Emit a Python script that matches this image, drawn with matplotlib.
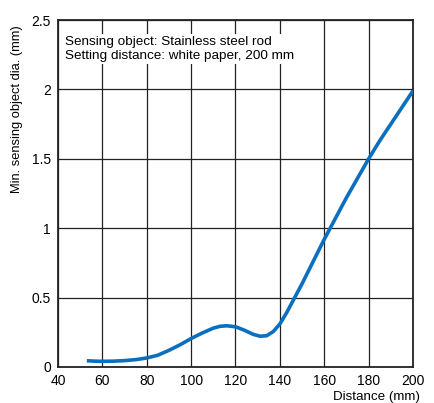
import matplotlib
matplotlib.use("Agg")
import matplotlib.pyplot as plt

plt.rcParams['font.family'] = ['Liberation Sans', 'DejaVu Sans']

# distance (mm) vs min. sensing object dia. (mm)
distance = [53, 57, 60, 65, 70, 75, 80, 85, 90, 95, 100, 105, 110, 113, 116, 120,
            124, 128, 131, 134, 137, 140, 143, 146, 150, 155, 160, 165, 170,
            175, 180, 185, 190, 195, 200]
min_dia = [0.045, 0.042, 0.041, 0.042, 0.046, 0.053, 0.065, 0.085, 0.12, 0.16, 0.205,
           0.245, 0.28, 0.293, 0.297, 0.29, 0.265, 0.235, 0.222, 0.225, 0.255, 0.31,
           0.39, 0.48, 0.6, 0.76, 0.92, 1.07, 1.22, 1.36, 1.5, 1.63, 1.75, 1.87, 1.99]

xticks = [40, 60, 80, 100, 120, 140, 160, 180, 200]
yticks = [0, 0.5, 1, 1.5, 2, 2.5]
ytick_labels = ['0', '0.5', '1', '1.5', '2', '2.5']

fig = plt.figure(figsize=(4.35, 4.03), dpi=100)
ax = fig.add_axes([58/435, 1 - 367/403, (413-58)/435, (367-20)/403])

ax.plot(distance, min_dia, color='#0a6fbf', lw=2.6, solid_capstyle='butt', zorder=3)

ax.set_xlim(40, 200)
ax.set_ylim(0, 2.5)
ax.set_xticks(xticks)
ax.set_yticks(yticks)
ax.set_yticklabels(ytick_labels)
ax.grid(True, color='#222222', lw=0.9)
ax.tick_params(length=0, labelsize=10)
ax.tick_params(axis='x', pad=5)
ax.tick_params(axis='y', pad=5)
for s in ax.spines.values():
    s.set_linewidth(1.3)
    s.set_color('#222222')

ax.text(0.02, 0.955, 'Sensing object: Stainless steel rod\nSetting distance: white paper, 200 mm',
        transform=ax.transAxes, fontsize=9.7, va='top', ha='left', linespacing=1.3,
        bbox=dict(facecolor='white', edgecolor='none', pad=1))

fig.text(17/435, 1 - 109/403, 'Min. sensing object dia. (mm)', fontsize=9.3,
         rotation=90, ha='center', va='center')
fig.text(420/435, 1 - 397/403, 'Distance (mm)', fontsize=9.6, ha='right', va='center')

fig.savefig('out.png', dpi=100)
